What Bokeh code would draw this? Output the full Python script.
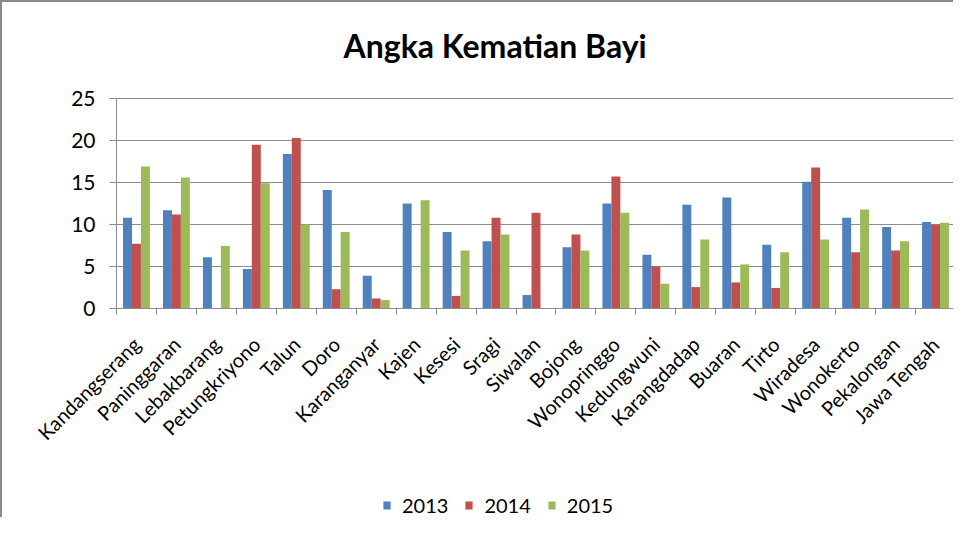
from bokeh.plotting import figure
from bokeh.models import ColumnDataSource, Range1d, FixedTicker, Legend, LegendItem
from bokeh.embed import file_html
from bokeh.resources import INLINE
from bokeh.transform import dodge
import math

categories = ["Kandangserang", "Paninggaran", "Lebakbarang", "Petungkriyono", "Talun", "Doro",
              "Karanganyar", "Kajen", "Kesesi", "Sragi", "Siwalan", "Bojong", "Wonopringgo",
              "Kedungwuni", "Karangdadap", "Buaran", "Tirto", "Wiradesa", "Wonokerto",
              "Pekalongan", "Jawa Tengah"]
y2013 = [10.8, 11.7, 6.1, 4.7, 18.4, 14.1, 3.9, 12.5, 9.1, 8.0, 1.6, 7.3, 12.5, 6.4, 12.35, 13.2, 7.6, 15.1, 10.8, 9.7, 10.3]
y2014 = [7.7, 11.2, 0, 19.5, 20.3, 2.3, 1.2, 0, 1.5, 10.8, 11.4, 8.8, 15.7, 5.0, 2.55, 3.1, 2.45, 16.8, 6.7, 6.9, 10.0]
y2015 = [16.9, 15.6, 7.45, 14.9, 10.0, 9.1, 1.0, 12.9, 6.9, 8.8, 0, 6.9, 11.4, 2.95, 8.2, 5.25, 6.7, 8.2, 11.8, 8.0, 10.2]
series = ["2013", "2014", "2015"]
colors = ["#4F81BD", "#C0504D", "#9BBB59"]
y_ticks = [0, 5, 10, 15, 20, 25]

xpos = list(range(1, len(categories) + 1))
src = ColumnDataSource(dict(x=xpos, y2013=y2013, y2014=y2014, y2015=y2015))

FONT = "Lato"
GRAY = "#8c8c8c"
x_lo, x_hi = 0.5, len(categories) + 0.5
# the frame covers the label and legend area; both axes are pinned inside it
p = figure(width=953, height=517, output_backend="svg", toolbar_location=None,
           x_range=Range1d(-2.353, x_hi), y_range=Range1d(-25.12, 26.667),
           title="Angka Kematian Bayi", min_border_left=0, min_border_right=0,
           min_border_top=82, min_border_bottom=0)
p.styles = {"border-top": "2px solid #8a8a8a", "border-left": "2px solid #8a8a8a"}
p.title.align = "left"
p.title.offset = 341
p.title.standoff = 40
p.title.text_font = FONT
p.title.text_font_size = "32px"
p.title.text_font_style = "bold"
p.title.text_color = "#000000"

bw = 0.224
renderers = []
for i, (s, c) in enumerate(zip(series, colors)):
    r = p.vbar(x=dodge("x", (i - 1) * bw, range=p.x_range), top="y" + s, width=bw,
               source=src, fill_color=c, line_color=None)
    renderers.append(r)

p.xaxis.fixed_location = 0
p.xaxis.bounds = (x_lo, x_hi)
p.xaxis.ticker = FixedTicker(ticks=xpos, minor_ticks=[i + 0.5 for i in range(0, len(categories) + 1)])
p.xaxis.major_label_overrides = {x: c for x, c in zip(xpos, categories)}
p.xaxis.major_tick_out = 0
p.xaxis.major_tick_in = 0
p.xaxis.major_tick_line_color = None
p.xaxis.minor_tick_out = 6
p.xaxis.minor_tick_in = 0
p.xaxis.minor_tick_line_color = GRAY
p.xaxis.axis_line_color = GRAY
p.xaxis.major_label_orientation = math.pi / 4
p.xaxis.major_label_standoff = 26
p.xaxis.major_label_text_font = FONT
p.xaxis.major_label_text_font_size = "20px"
p.xaxis.major_label_text_color = "#000000"

p.yaxis.fixed_location = x_lo
p.yaxis.ticker = FixedTicker(ticks=y_ticks)
p.yaxis.bounds = (0, 25)
p.yaxis.major_tick_out = 7
p.yaxis.major_tick_in = 0
p.yaxis.minor_tick_line_color = None
p.yaxis.major_tick_line_color = GRAY
p.yaxis.axis_line_color = GRAY
p.yaxis.major_label_text_font = FONT
p.yaxis.major_label_text_font_size = "21px"
p.yaxis.major_label_text_color = "#000000"
p.yaxis.major_label_standoff = 14

p.xgrid.grid_line_color = None
p.ygrid.grid_line_color = GRAY
p.ygrid.grid_line_width = 1
for g in p.ygrid:
    if "cross_bounds" in g.properties():
        g.cross_bounds = (x_lo, x_hi)
p.outline_line_color = None

legend = Legend(items=[LegendItem(label=s, renderers=[r]) for s, r in zip(series, renderers)],
                orientation="horizontal", location=(380, 2), padding=0, margin=0,
                spacing=16, label_standoff=11, glyph_width=9, glyph_height=10,
                label_text_font=FONT, label_text_font_size="20px", label_text_color="#000000",
                border_line_color=None, background_fill_alpha=0)
p.add_layout(legend, "center")

open("out.html", "w").write(file_html(p, INLINE))
